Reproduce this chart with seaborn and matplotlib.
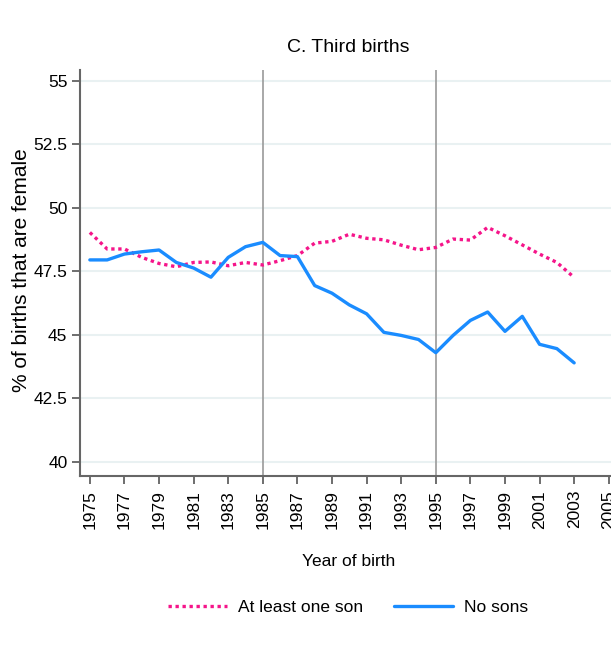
import numpy as np
import pandas as pd
import matplotlib
matplotlib.use("Agg")
import matplotlib.pyplot as plt
import seaborn as sns

# Values
years = list(range(1975, 2004))
at_least_one_son = [
    49.03, 48.38, 48.38, 48.05, 47.81, 47.68, 47.85, 47.87, 47.72, 47.85,
    47.75, 47.92, 48.12, 48.61, 48.68, 48.96, 48.80, 48.74, 48.53, 48.35,
    48.44, 48.77, 48.73, 49.23, 48.90, 48.54, 48.18, 47.85, 47.26,
]
no_sons = [
    47.95, 47.95, 48.18, 48.27, 48.34, 47.85, 47.63, 47.27, 48.05, 48.47,
    48.64, 48.12, 48.08, 46.94, 46.64, 46.18, 45.83, 45.10, 44.98, 44.82,
    44.30, 44.98, 45.57, 45.90, 45.14, 45.73, 44.63, 44.46, 43.90,
]
y_ticks = [40, 42.5, 45, 47.5, 50, 52.5, 55]
y_tick_labels = ["40", "42.5", "45", "47.5", "50", "52.5", "55"]
x_ticks = list(range(1975, 2006, 2))
ref_years = [1985, 1995]

sns.set_theme(style="white")
narrow = ["Liberation Sans Narrow", "Liberation Sans", "DejaVu Sans"]
plt.rcParams["font.family"] = narrow
plt.rcParams["text.color"] = "black"
plt.rcParams["xtick.labelcolor"] = "black"
plt.rcParams["ytick.labelcolor"] = "black"

df = pd.DataFrame({"year": years, "son": at_least_one_son, "nosons": no_sons})

fig = plt.figure(figsize=(6.11, 6.51), dpi=100)
ax = fig.add_axes([80 / 611, 1 - 476 / 651, 1 - 80 / 611, (476 - 70) / 651])

# horizontal grid
for yv in y_ticks:
    ax.axhline(yv, color="#e9f1f2", lw=1.5, zorder=0)
for xv in ref_years:
    ax.axvline(xv, color="#9a9a9a", lw=1.2, zorder=1)

sns.lineplot(data=df, x="year", y="son", ax=ax, color="#f5158a", lw=2.4,
             linestyle=(0, (1, 1.1)), label="At least one son", zorder=3)
sns.lineplot(data=df, x="year", y="nosons", ax=ax, color="#1a8cff", lw=2.4,
             label="No sons", zorder=3)

ax.set_xlim(1974.43, 2005.13)
ax.set_ylim(39.45, 55.42)
ax.set_yticks(y_ticks)
ax.set_yticklabels(y_tick_labels, fontsize=12.5)
ax.set_xticks(x_ticks)
ax.set_xticklabels([str(x) for x in x_ticks], rotation=90, fontsize=12.5)
ax.tick_params(axis="both", which="both", direction="out", length=6, width=1.2,
               color="#555555", labelcolor="black", bottom=True, left=True)
ax.tick_params(axis="x", pad=4)
ax.tick_params(axis="y", pad=3)

for side in ["top", "right"]:
    ax.spines[side].set_visible(False)
for side in ["left", "bottom"]:
    ax.spines[side].set_color("#666666")
    ax.spines[side].set_linewidth(1.5)

ax.set_xlabel("")
ax.set_ylabel("")
fig.text(349 / 611, 1 - 561 / 651, "Year of birth", ha="center", va="center",
         fontsize=12.5, color="black")
fig.text(22 / 611, 1 - 270 / 651, "% of births that are female", rotation=90,
         ha="center", va="center", fontsize=15, color="black",
         family=["Liberation Sans", "DejaVu Sans"])
fig.text(348 / 611, 1 - 48 / 651, "C. Third births", ha="center", va="center",
         fontsize=14, color="black")

ax.get_legend().remove()
handles, labels = ax.get_legend_handles_labels()
leg = fig.legend(handles, labels, loc="center",
                 bbox_to_anchor=(348 / 611, 1 - 607 / 651),
                 ncol=2, frameon=False, fontsize=12.5, handlelength=3.4,
                 columnspacing=1.8, handletextpad=0.6)
for t in leg.get_texts():
    t.set_color("black")

fig.savefig("out.png", dpi=100)
